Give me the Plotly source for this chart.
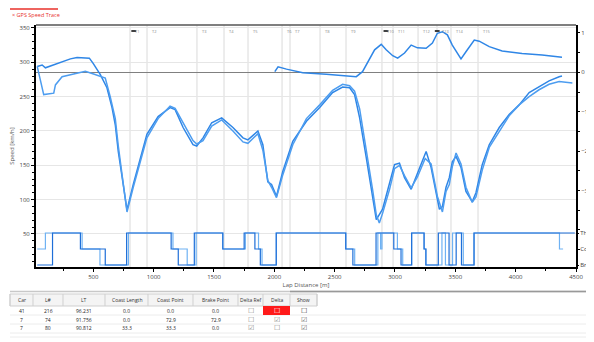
import plotly.graph_objects as go

# ---------------- data ----------------
dist_a = [35, 76, 103, 169, 241, 310, 365, 434, 467, 500, 558, 613, 655, 682, 707, 748, 779, 831, 888, 944,
          1037, 1136, 1178, 1244, 1326, 1357, 1409, 1481, 1564, 1657, 1740, 1781, 1864, 1905, 1946, 1977, 2018,
          2070, 2153, 2266, 2376, 2483, 2566, 2624, 2665, 2707, 2762, 2814, 2845, 2897, 2955, 2996, 3037, 3079,
          3134, 3186, 3258, 3299, 3351, 3368, 3393, 3423, 3450, 3475, 3506, 3547, 3588, 3640, 3671, 3723, 3781,
          3864, 3946, 4029, 4112, 4194, 4277, 4360, 4384]
speed_a = [294, 296, 292, 296, 301, 305, 307, 307, 306, 298, 282, 263, 234, 209, 170, 122, 85, 122, 161, 195,
           221, 234, 231, 205, 180, 178, 190, 212, 219, 205, 190, 187, 200, 180, 126, 122, 105,
           141, 185, 214, 234, 256, 264, 263, 253, 219, 161, 103, 71, 86, 126, 151, 153, 132,
           115, 137, 170, 147, 97, 86, 90, 118, 132, 155, 163, 147, 112, 97, 110, 151, 180,
           205, 224, 238, 256, 264, 273, 279, 280]

dist_b = [35, 89, 172, 186, 241, 434, 502, 599, 640, 682, 707, 748, 779, 831, 888, 944, 1037, 1136, 1178, 1244,
          1326, 1357, 1409, 1481, 1564, 1657, 1740, 1781, 1864, 1905, 1946, 1977, 2018, 2070, 2153, 2266, 2376,
          2483, 2566, 2624, 2665, 2707, 2762, 2814, 2845, 2870, 2897, 2955, 2996, 3037, 3079, 3134, 3186, 3250,
          3299, 3351, 3393, 3423, 3450, 3475, 3506, 3547, 3588, 3640, 3671, 3723, 3781, 3864, 3946, 4029, 4080,
          4112, 4194, 4277, 4360, 4470]
speed_b = [294, 253, 255, 267, 279, 287, 283, 277, 250, 218, 178, 125, 82, 118, 155, 190, 218, 236, 233, 212,
           186, 181, 186, 207, 216, 200, 184, 182, 196, 172, 128, 118, 103, 136, 180, 218, 238,
           259, 268, 266, 258, 232, 175, 115, 78, 66, 80, 115, 145, 150, 135, 117, 133, 160,
           152, 105, 82, 112, 122, 148, 168, 152, 118, 96, 104, 143, 176, 200, 222, 238, 246,
           250, 260, 268, 272, 270]

delta_dist = [2004, 2031, 2101, 2236, 2431, 2679, 2731, 2789, 2831, 2886, 2927, 2981, 3022, 3079, 3134, 3186,
              3258, 3310, 3351, 3393, 3434, 3475, 3547, 3588, 3657, 3698, 3781, 3888, 4053, 4219, 4384]
delta_vals = [0.015, 0.14, 0.08, -0.01, -0.05, -0.11, 0.015, 0.36, 0.57, 0.71, 0.57, 0.42, 0.36, 0.49, 0.69, 0.62,
              0.61, 0.74, 0.99, 1.03, 0.95, 0.69, 0.34, 0.52, 0.82, 0.79, 0.65, 0.54, 0.48, 0.44, 0.38]

# pedal state: 0 = Brake, 1 = Coast, 2 = Throttle
state_a_dist = [35, 162, 393, 599, 776, 1145, 1204, 1337, 1573, 1750, 1839, 1884, 2016, 2592, 2651, 2843,
                2990, 3050, 3138, 3241, 3256, 3359, 3448, 3507, 3551, 3655, 4490]
state_a = [0, 2, 1, 0, 2, 1, 0, 2, 1, 2, 1, 0, 2, 1, 0, 2,
           1, 0, 2, 1, 0, 2, 0, 2, 0, 2, 2]
state_b_dist = [35, 103, 407, 555, 791, 1160, 1278, 1352, 1573, 1760, 1869, 1898, 2016, 2592, 2666, 2858,
                2881, 2892, 3020, 3064, 3138, 3241, 3256, 3389, 3418, 3477, 3566, 3655, 4363, 4393]
state_b = [1, 2, 1, 0, 2, 1, 0, 2, 1, 2, 1, 0, 2, 1, 0, 2,
           1, 2, 1, 0, 2, 1, 0, 2, 0, 2, 0, 2, 1, 1]
state_labels = ["Brake", "Coast", "Throttle"]

speed_ticks = [50, 100, 150, 200, 250, 300, 350]
dist_ticks = [500, 1000, 1500, 2000, 2500, 3000, 3500, 4000, 4500]
delta_ticks = [-3, -2, -1, 0, 1]

corner_dist = [804, 945, 1359, 1583, 1782, 2064, 2130, 2379, 2594, 2892, 2984, 3191, 3348, 3464, 3688]
corner_labels = ["T1", "T2", "T3", "T4", "T5", "T6", "T7", "T8", "T9", "T10", "T11", "T12", "T13", "T14", "T15"]

# table
col_headers = ["Car", "L#", "LT", "Coast Length", "Coast Point", "Brake Point", "Delta Ref", "Delta", "Show"]
car = ["41", "7", "7"]
lap = ["216", "74", "80"]
lap_time = ["96.231", "91.756", "90.812"]
coast_len = ["0.0", "0.0", "33.3"]
coast_pt = ["0.0", "72.9", "33.3"]
brake_pt = ["0.0", "72.9", "0.0"]
delta_ref = [False, False, True]
delta_on = [False, True, False]
show = [False, True, True]

# ---------------- figure ----------------
OFF = 8                      # page body margin
W, H = 586, 334
L, R, T, B = 28, 18, 17, 75
PW, PH = W - L - R, H - T - B

def px(x):  # page pixel -> paper
    return (x - OFF - L) / PW

def py(y):
    return (H - B - (y - OFF)) / PH

BLUE1 = "#2f86e6"
BLUE2 = "#4d9df0"
FONT = "Segoe UI, Open Sans, sans-serif"

fig = go.Figure()
fig.add_trace(go.Scatter(x=dist_a, y=speed_a, mode="lines", line=dict(color=BLUE1, width=1.5), yaxis="y"))
fig.add_trace(go.Scatter(x=dist_b, y=speed_b, mode="lines", line=dict(color=BLUE2, width=1.5), yaxis="y"))
fig.add_trace(go.Scatter(x=delta_dist, y=delta_vals, mode="lines", line=dict(color=BLUE1, width=1.5), yaxis="y2"))
fig.add_trace(go.Scatter(x=state_b_dist, y=state_b, mode="lines", line=dict(color="#6fb2f3", width=1.2, shape="hv"), yaxis="y3"))
fig.add_trace(go.Scatter(x=state_a_dist, y=state_a, mode="lines", line=dict(color="#1f6fd8", width=1.2, shape="hv"), yaxis="y3"))

tickfont = dict(family=FONT, size=6, color="#444")

fig.update_layout(
    width=W, height=H,
    margin=dict(l=L, r=R, t=T, b=B, autoexpand=False),
    paper_bgcolor="white", plot_bgcolor="white",
    showlegend=False,
    font=dict(family=FONT, size=6, color="#555"),
    xaxis=dict(range=[25, 4500], tickvals=dist_ticks, ticks="outside", ticklen=3, tickcolor="black",
               showline=True, linecolor="black", linewidth=2, showgrid=False, zeroline=False, automargin=False,
               tickfont=tickfont, title=dict(text="Lap Distance [m]", font=dict(family=FONT, size=6, color="#555"), standoff=2),
               minor=dict(dtick=250, ticks="outside", ticklen=2, tickcolor="black", showgrid=False)),
    yaxis=dict(range=[1.9, 354.3], tickvals=speed_ticks, ticks="outside", ticklen=3, tickcolor="black",
               showline=True, linecolor="black", linewidth=2, showgrid=True, gridcolor="#e6e6e6", gridwidth=1,
               zeroline=False, tickfont=tickfont, automargin=False,
               title=dict(text="Speed [km/h]", font=dict(family=FONT, size=6, color="#555"), standoff=4),
               minor=dict(dtick=10, ticks="outside", ticklen=2, tickcolor="black", showgrid=False)),
    yaxis2=dict(overlaying="y", side="right", range=[-4.94, 1.2], tickvals=delta_ticks, ticks="outside",
                ticklen=2, tickcolor="black", showline=True, linecolor="black", linewidth=2, showgrid=False,
                zeroline=True, zerolinecolor="#808080", zerolinewidth=1, tickfont=tickfont, automargin=False,
                minor=dict(dtick=0.5, ticks="outside", ticklen=2, tickcolor="black")),
    yaxis3=dict(overlaying="y", side="right", range=[-0.125, 15], tickvals=[0, 1, 2], ticktext=state_labels,
                ticks="outside", ticklen=2, tickcolor="black", showline=False, showgrid=False, zeroline=False,
                tickfont=tickfont, automargin=False),
)

shapes = []
ann = []
# corner lines
for d, lab in zip(corner_dist, corner_labels):
    shapes.append(dict(type="line", xref="x", yref="paper", x0=d, x1=d, y0=0, y1=1,
                       line=dict(color="#dadada", width=1), layer="below"))
    ann.append(dict(xref="x", yref="paper", x=d + 25, y=py(31), text=lab, showarrow=False,
                    xanchor="left", yanchor="middle", font=dict(family=FONT, size=4, color="#888")))
# top border
shapes.append(dict(type="line", xref="paper", yref="paper", x0=0, x1=1, y0=1, y1=1,
                   line=dict(color="#555", width=1.5)))
# black cursor markers near the top
for d in [835, 2925, 3350]:
    shapes.append(dict(type="line", xref="x", yref="paper", x0=d - 20, x1=d + 20, y0=py(31), y1=py(31),
                       line=dict(color="black", width=1.5)))

# title tab
shapes.append(dict(type="line", xref="paper", yref="paper", x0=px(10), x1=px(58), y0=py(9), y1=py(9),
                   line=dict(color="#e8302a", width=1.5)))
ann.append(dict(xref="paper", yref="paper", x=px(10), y=py(15), text="× GPS Speed Trace", showarrow=False,
                xanchor="left", yanchor="middle", font=dict(family=FONT, size=5.5, color="#e8302a")))

# ---------- table ----------
cols = [10, 33, 63, 105, 148, 193, 238, 263, 290, 317]
hy0, hy1 = 294, 306
row_h = 9
rows_y = [hy1 + i * row_h for i in range(4)]

# splitter bar
shapes.append(dict(type="line", xref="paper", yref="paper", x0=px(10), x1=px(594), y0=py(291.5), y1=py(291.5),
                   line=dict(color="#c8c8c8", width=1.5)))
shapes.append(dict(type="line", xref="paper", yref="paper", x0=px(290), x1=px(594), y0=py(291.5), y1=py(291.5),
                   line=dict(color="#999", width=1.5)))
# header
shapes.append(dict(type="rect", xref="paper", yref="paper", x0=px(cols[0]), x1=px(cols[-1]), y0=py(hy1), y1=py(hy0),
                   fillcolor="#f4f4f4", line=dict(color="#cfcfcf", width=1)))
for c in cols:
    shapes.append(dict(type="line", xref="paper", yref="paper", x0=px(c), x1=px(c), y0=py(hy1), y1=py(hy0),
                       line=dict(color="#cfcfcf", width=1)))
for i, h in enumerate(col_headers):
    ann.append(dict(xref="paper", yref="paper", x=px((cols[i] + cols[i + 1]) / 2), y=py((hy0 + hy1) / 2),
                    text=h, showarrow=False, xanchor="center", yanchor="middle",
                    font=dict(family=FONT, size=5, color="#333")))
# row lines
for ry in rows_y[1:] + [337]:
    shapes.append(dict(type="line", xref="paper", yref="paper", x0=px(10), x1=px(594), y0=py(ry), y1=py(ry),
                       line=dict(color="#ececec", width=1)))
# red delta cell
shapes.append(dict(type="rect", xref="paper", yref="paper", x0=px(cols[7]), x1=px(cols[8]),
                   y0=py(rows_y[1]), y1=py(rows_y[0]), fillcolor="#ff1a1a", line=dict(width=0)))

text_cols = [car, lap, lap_time, coast_len, coast_pt, brake_pt]
for r in range(3):
    yc = py(rows_y[r] + row_h / 2)
    for ci, colvals in enumerate(text_cols):
        ann.append(dict(xref="paper", yref="paper", x=px((cols[ci] + cols[ci + 1]) / 2), y=yc,
                        text=colvals[r], showarrow=False, xanchor="center", yanchor="middle",
                        font=dict(family=FONT, size=5, color="#222")))
    for ci, vals in [(6, delta_ref), (7, delta_on), (8, show)]:
        checked = vals[r]
        if ci == 8:
            color = "#333" if not checked else "#666"
        elif ci == 7 and r == 0:
            color = "white"
        else:
            color = "#888"
        ann.append(dict(xref="paper", yref="paper", x=px((cols[ci] + cols[ci + 1]) / 2), y=yc,
                        text="☑" if checked else "☐", showarrow=False, xanchor="center", yanchor="middle",
                        font=dict(family="DejaVu Sans", size=7, color=color)))

fig.update_layout(shapes=shapes, annotations=ann)
fig.write_html("out.html")
